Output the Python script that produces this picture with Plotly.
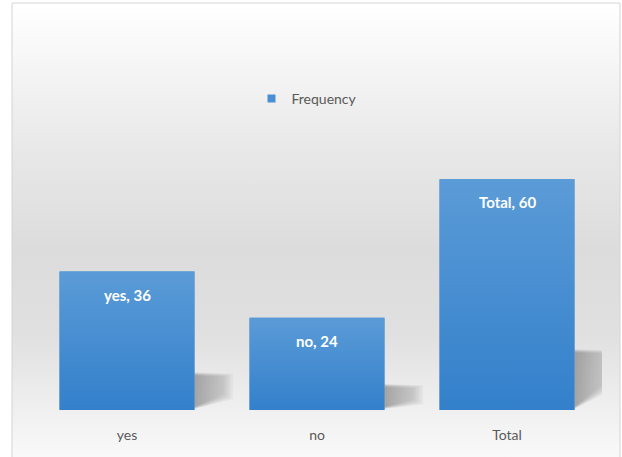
import plotly.graph_objects as go

# Survey answers and their counts
categories = ["yes", "no", "Total"]
frequency = [36, 24, 60]
series_name = "Frequency"

W, H = 622, 457
BAR_W = 0.71
FONT = "Lato"
TEXT_GRAY = "#595959"

fig = go.Figure()

# ---- full-canvas background subplot (pixel units, y up) ----
fig.add_trace(go.Scatter(
    x=[12, 620, 620, 12, 12], y=[-5, -5, 454, 454, -5],
    mode="lines", line=dict(width=0), fill="toself",
    fillgradient=dict(type="vertical", colorscale=[
        [0.0, "#fafafa"], [0.10, "#f1f1f1"], [0.28, "#e0e0e0"],
        [0.46, "#dcdcdc"], [0.68, "#e8e8e8"], [0.87, "#f6f6f6"], [1.0, "#ffffff"]]),
    hoverinfo="skip", showlegend=False, xaxis="x", yaxis="y"))

fig.add_shape(type="rect", x0=12, x1=620, y0=-5, y1=454, xref="x", yref="y",
              line=dict(color="#d4d4d4", width=1), fillcolor="rgba(0,0,0,0)")

# ---- soft floor shadows to the right of each bar (stacked translucent layers) ----
for i, v in enumerate(frequency):
    xr = i + BAR_W / 2
    h = v * 0.25
    for k in range(5):
        g = (4 - k) * 0.012          # outer layers are slightly larger
        alpha = 0.16
        xs = [xr, xr, xr + 0.155 + g, xr + 0.155 + g, xr]
        ys = [0.8 - g * 10, h + g * 15, h + g * 15 - 0.3, h * 0.45 - g * 25, 0.8 - g * 10]
        fig.add_trace(go.Scatter(
            x=xs, y=ys, mode="lines", line=dict(width=0), fill="toself",
            fillgradient=dict(type="horizontal", colorscale=[
                [0, f"rgba(110,110,110,{alpha})"],
                [1, f"rgba(150,150,150,{alpha * 0.6})"]]),
            hoverinfo="skip", showlegend=False, xaxis="x2", yaxis="y2"))

# ---- bars ----
fig.add_trace(go.Bar(
    x=list(range(len(categories))), y=frequency, width=BAR_W,
    marker=dict(color="#4589d0", line=dict(width=0)),
    name=series_name, showlegend=False, xaxis="x2", yaxis="y2"))

# vertical gradient over each bar
for i, v in enumerate(frequency):
    x0, x1 = i - BAR_W / 2, i + BAR_W / 2
    fig.add_trace(go.Scatter(
        x=[x0, x1, x1, x0, x0], y=[0, 0, v, v, 0],
        mode="lines", line=dict(width=0), fill="toself",
        fillgradient=dict(type="vertical", colorscale=[[0, "#3380cb"], [1, "#5b9bd7"]]),
        hoverinfo="skip", showlegend=False, xaxis="x2", yaxis="y2"))

# legend entry
fig.add_trace(go.Scatter(
    x=[None], y=[None], mode="markers", name=series_name,
    marker=dict(symbol="square", size=8, color="#4a8fd6"),
    xaxis="x2", yaxis="y2"))

# value labels inside bars
for i, (c, v) in enumerate(zip(categories, frequency)):
    fig.add_annotation(x=i, y=v, xref="x2", yref="y2", text=f"<b>{c}, {v}</b>",
                       showarrow=False, yanchor="middle", yshift=-23,
                       font=dict(family=FONT, size=15, color="white"))

fig.update_layout(
    width=W, height=H,
    margin=dict(l=0, r=0, t=0, b=0),
    paper_bgcolor="white", plot_bgcolor="rgba(0,0,0,0)",
    font=dict(family=FONT, color=TEXT_GRAY),
    xaxis=dict(domain=[0, 1], range=[0, W], visible=False, fixedrange=True),
    yaxis=dict(domain=[0, 1], range=[0, H], visible=False, fixedrange=True),
    xaxis2=dict(domain=[32 / W, 602 / W], range=[-0.5, 2.5], anchor="y2",
                tickvals=list(range(len(categories))), ticktext=categories,
                tickfont=dict(family=FONT, size=14, color=TEXT_GRAY),
                showgrid=False, zeroline=False, showline=False, ticks="",
                ticklabelstandoff=15),
    yaxis2=dict(domain=[47 / H, 397 / H], range=[0, 91], anchor="x2",
                visible=False, showgrid=False, zeroline=False),
    legend=dict(orientation="h", x=0.5 - 4 / W, xanchor="center", y=(H - 99) / H,
                yanchor="middle", bgcolor="rgba(0,0,0,0)",
                font=dict(family=FONT, size=14, color=TEXT_GRAY),
                itemwidth=30),
    showlegend=True,
)

fig.write_html("out.html")
